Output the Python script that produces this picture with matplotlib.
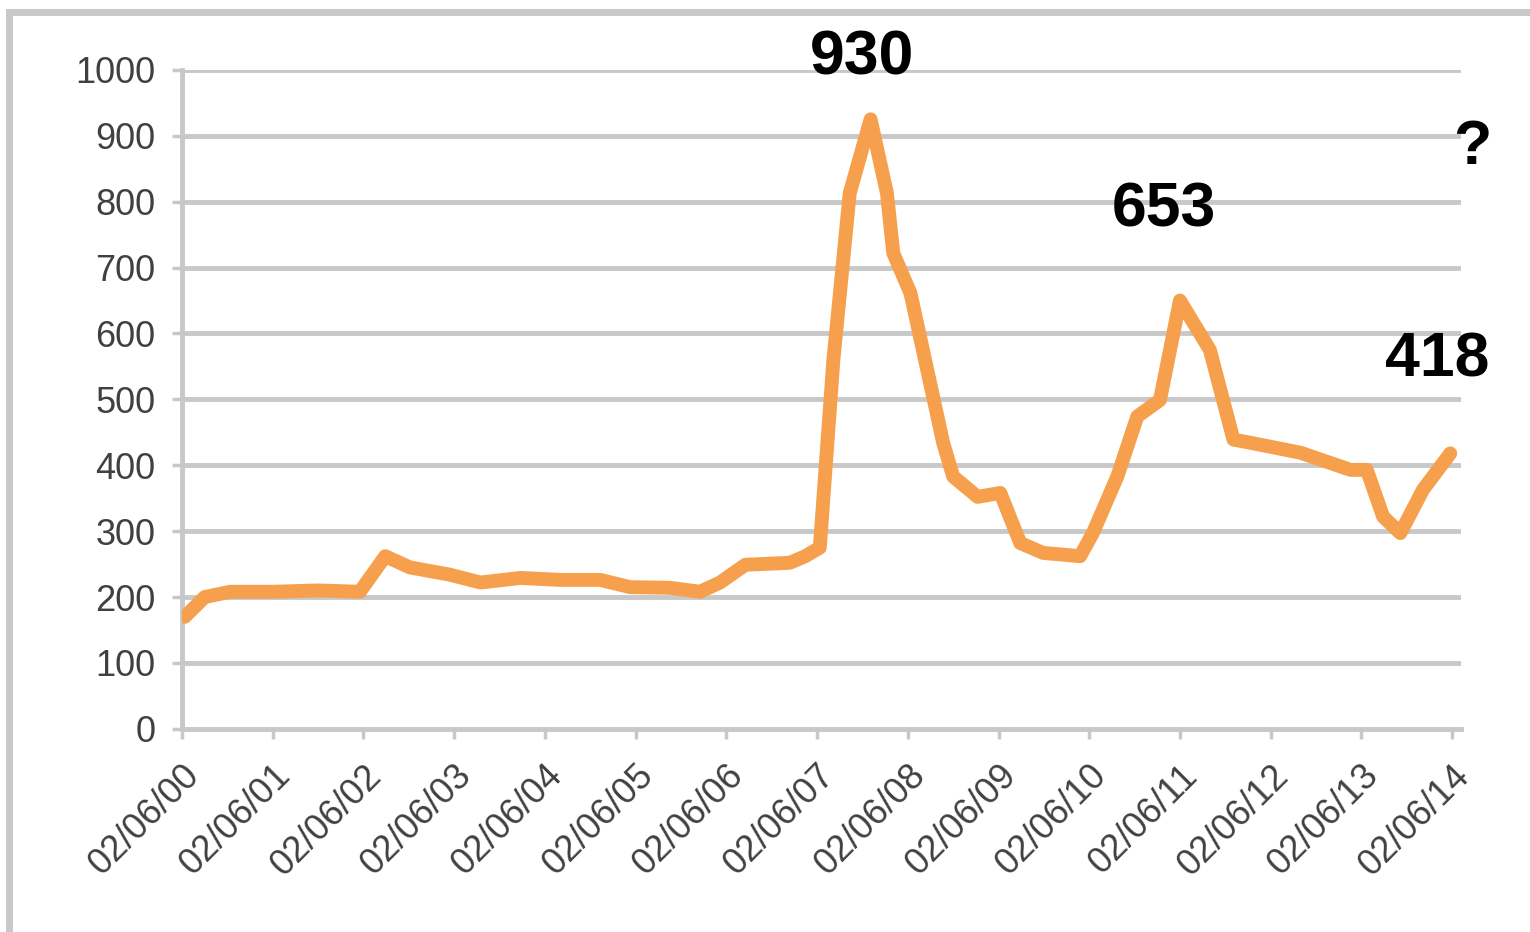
import matplotlib
matplotlib.use("Agg")
import matplotlib.pyplot as plt
from matplotlib.lines import Line2D

# time in years since 02/06/00
t = [0.03, 0.25, 0.53, 1.0, 1.5, 1.96, 2.24, 2.51, 2.95, 3.29, 3.73, 4.17, 4.61, 4.94,
     5.38, 5.71, 5.93, 6.21, 6.70, 6.87, 7.03, 7.18, 7.36, 7.59, 7.77, 7.84, 8.03,
     8.39, 8.50, 8.77, 9.02, 9.24, 9.49, 9.90, 10.04, 10.31, 10.53, 10.78, 11.00,
     11.11, 11.33, 11.59, 11.78, 12.33, 12.88, 13.06, 13.24, 13.43, 13.68, 13.98]
price = [170, 200, 208, 208, 210, 208, 262, 245, 234, 222, 229, 226, 226, 215,
         214, 208, 222, 249, 252, 262, 275, 560, 813, 925, 813, 722, 661,
         434, 383, 352, 358, 282, 267, 262, 297, 383, 474, 499, 650,
         625, 575, 439, 434, 419, 393, 393, 322, 297, 363, 418]

tick_labels = ["02/06/%02d" % y for y in range(15)]
y_ticks = list(range(0, 1001, 100))

notes = [("930", 7.50, 1018), ("653", 10.82, 788), ("418", 13.84, 560), ("?", 14.22, 882)]

plt.rcParams['font.family'] = ['Liberation Sans', 'DejaVu Sans']

fig = plt.figure(figsize=(15.3, 9.32), dpi=100)
ax = fig.add_axes([0.119, 0.218, 0.836, 0.707])

grid_c = "#c8c8c8"
for v in y_ticks[1:]:
    ax.axhline(v, color=grid_c, lw=3.5, zorder=1)

ax.plot(t, price, color="#f6a04d", lw=10, solid_joinstyle="round",
        solid_capstyle="round", zorder=3)

ax.set_xlim(0, 14.1)
ax.set_ylim(0, 1000)
ax.set_yticks(y_ticks)
ax.set_xticks(range(15))
ax.set_xticklabels(tick_labels, rotation=45, ha="right", va="top", rotation_mode="anchor")

for s in ["top", "right"]:
    ax.spines[s].set_visible(False)
for s in ["left", "bottom"]:
    ax.spines[s].set_color(grid_c)
    ax.spines[s].set_linewidth(3.5)

ax.tick_params(axis="both", colors=grid_c, width=2.5, length=7, labelcolor="#404040", labelsize=26)
ax.tick_params(axis="y", pad=12)
ax.tick_params(axis="x", pad=14)

for txt, x, y in notes:
    ax.text(x, y, txt, fontsize=45, fontweight="bold", ha="center", va="center",
            color="black", clip_on=False, zorder=5)

# outer frame of the picture
fig.add_artist(Line2D([0.006, 1.0], [0.987, 0.987], color="#c8c8c8", lw=5))
fig.add_artist(Line2D([0.006, 0.006], [0.0, 0.987], color="#c8c8c8", lw=5))

fig.savefig("out.png", dpi=100)
